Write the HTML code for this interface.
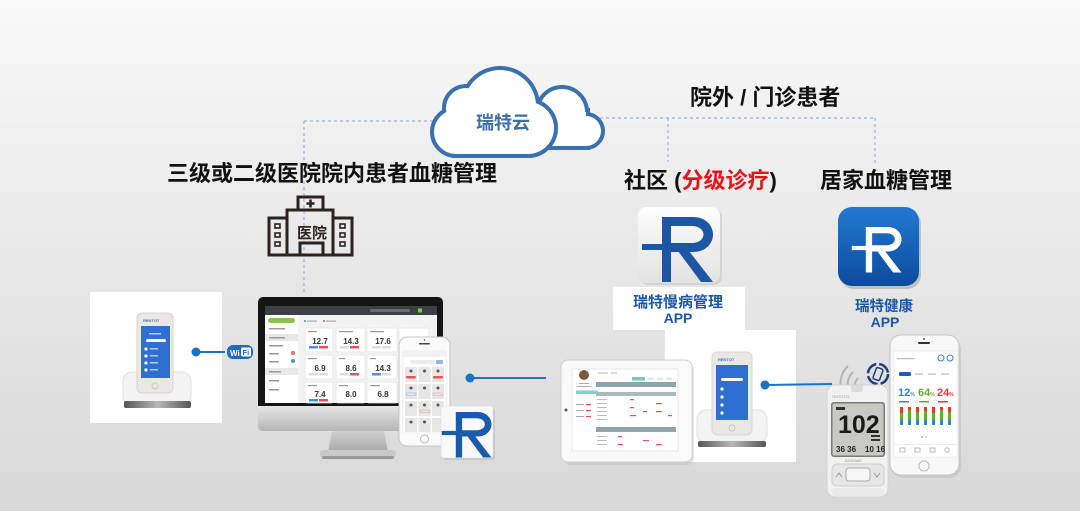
<!DOCTYPE html>
<html><head><meta charset="utf-8"><style>
html,body{margin:0;padding:0;width:1080px;height:511px;overflow:hidden;background:#e8e8e8}
svg{position:absolute;left:0;top:0}
text{font-family:"Liberation Sans","Noto Sans CJK SC",sans-serif}
</style></head><body>
<svg width="1080" height="511" viewBox="0 0 1080 511" xmlns="http://www.w3.org/2000/svg">
<defs>
<linearGradient id="bg" x1="0" y1="0" x2="0" y2="1">
<stop offset="0" stop-color="#f9f9f9"/><stop offset="0.35" stop-color="#ededed"/><stop offset="1" stop-color="#d8d8d8"/>
</linearGradient>
<linearGradient id="chin" x1="0" y1="0" x2="0" y2="1"><stop offset="0" stop-color="#e6e6e6"/><stop offset="1" stop-color="#b5b5b5"/></linearGradient>
<linearGradient id="neck" x1="0" y1="0" x2="0" y2="1"><stop offset="0" stop-color="#d0d0d0"/><stop offset="1" stop-color="#a8a8a8"/></linearGradient>
<linearGradient id="base" x1="0" y1="0" x2="1" y2="0"><stop offset="0" stop-color="#555"/><stop offset="0.5" stop-color="#b8b8b8"/><stop offset="1" stop-color="#555"/></linearGradient>
<linearGradient id="ic1" x1="0" y1="0" x2="0" y2="1"><stop offset="0" stop-color="#fdfdfd"/><stop offset="1" stop-color="#e2e2e2"/></linearGradient>
<linearGradient id="ic2" x1="0" y1="0" x2="0" y2="1"><stop offset="0" stop-color="#2379d2"/><stop offset="1" stop-color="#0b4b9c"/></linearGradient>
<g id="logo">
<path fill-rule="evenodd" d="M24 10 H55 C67 10 75 18 75 27.5 C75 37 67 45 55 45 H33 V75 H24 Z M33 19 H54 C61 19 65.5 23 65.5 27.5 C65.5 32 61 36 54 36 H33 Z"/>
<rect x="4" y="37" width="30" height="6"/>
<polygon points="40,44 51,44 75,75 63,75"/>
</g>
</defs>
<rect width="1080" height="511" fill="url(#bg)"/>

<!-- dashed connectors -->
<path d="M304 121 H440 M304 121 V293 M600 118 H875 M668 118 V162 M875 118 V165" stroke="#9fb0d4" stroke-width="1.2" stroke-dasharray="3 3" fill="none"/>

<!-- cloud back -->
<g stroke="#3a70ae" stroke-width="8" fill="#3a70ae">
<circle cx="562" cy="112" r="23"/><circle cx="586" cy="131" r="15"/><rect x="545" y="112" width="41" height="34"/>
</g>
<g fill="#fff">
<circle cx="562" cy="112" r="23"/><circle cx="586" cy="131" r="15"/><rect x="545" y="112" width="41" height="34"/>
</g>
<!-- cloud front -->
<g stroke="#3a70ae" stroke-width="8" fill="#3a70ae">
<circle cx="500" cy="106" r="36"/><circle cx="466" cy="108" r="20"/><circle cx="456" cy="132" r="22"/><circle cx="528" cy="128" r="26"/><rect x="456" y="118" width="72" height="36"/>
</g>
<g fill="#fff">
<circle cx="500" cy="106" r="36"/><circle cx="466" cy="108" r="20"/><circle cx="456" cy="132" r="22"/><circle cx="528" cy="128" r="26"/><rect x="456" y="118" width="72" height="36"/>
</g>
<text x="476" y="129" font-size="18" font-weight="bold" fill="#3c6fa8">瑞特云</text>

<!-- headings -->
<text x="167" y="181" font-size="22" font-weight="bold" fill="#111">三级或二级医院院内患者血糖管理</text>
<text x="690" y="105" font-size="22" font-weight="bold" fill="#111">院外 / 门诊患者</text>
<text x="624" y="188" font-size="22" font-weight="bold" fill="#111">社区 (<tspan fill="#e8141b">分级诊疗</tspan>)</text>
<text x="820" y="188" font-size="22" font-weight="bold" fill="#111">居家血糖管理</text>

<!-- hospital icon -->
<g stroke="#2b2222" stroke-width="3" fill="none">
<rect x="298" y="197" width="25" height="13"/>
<path d="M287 255 V210 H333 V255"/>
<rect x="269" y="218" width="18" height="37"/>
<rect x="333" y="218" width="19" height="37"/>
<path d="M268 255 H353"/>
<rect x="300" y="243" width="23" height="12"/>
</g>
<path d="M310.5 199.5 V207.5 M306.5 203.5 H314.5" stroke="#2b2222" stroke-width="2.5"/>
<g fill="none" stroke="#2b2222" stroke-width="1.6">
<rect x="275" y="224" width="5" height="4"/><rect x="275" y="233" width="5" height="4"/><rect x="275" y="242" width="5" height="4"/>
<rect x="340" y="224" width="5" height="4"/><rect x="340" y="233" width="5" height="4"/><rect x="340" y="242" width="5" height="4"/>
</g>
<text x="297" y="238" font-size="15" font-weight="bold" fill="#2b2222">医院</text>

<!-- left device box -->
<rect x="90" y="292" width="132" height="131" fill="#fff"/>
<rect x="123" y="372" width="68" height="33" rx="9" fill="#f3f3f3" stroke="#e0e0e0"/>
<rect x="137" y="313" width="36" height="80" rx="5" fill="#ebe8e3" stroke="#d5d5d5"/>
<text x="143" y="322" font-size="4" fill="#3b6fc0" font-weight="bold">RENTOT</text>
<rect x="141" y="326" width="29" height="52" fill="#2f6fd2"/>
<rect x="146" y="339" width="20" height="3" rx="1.5" fill="#fff"/>
<g fill="#fff"><circle cx="146" cy="349" r="1.6"/><circle cx="146" cy="356" r="1.6"/><circle cx="146" cy="363" r="1.6"/><circle cx="146" cy="370" r="1.6"/></g>
<g fill="#b8cdf0"><rect x="150" y="348" width="8" height="1.5"/><rect x="150" y="355" width="8" height="1.5"/><rect x="150" y="362" width="8" height="1.5"/><rect x="150" y="369" width="8" height="1.5"/><rect x="149" y="333" width="12" height="1.5"/></g>
<circle cx="155" cy="386" r="3" fill="none" stroke="#c8c8c8"/>
<rect x="124" y="401" width="67" height="7" rx="2" fill="url(#base)"/>

<!-- connector 1 + wifi -->
<line x1="196" y1="352" x2="225" y2="352" stroke="#1a73c7" stroke-width="2"/>
<circle cx="196" cy="352" r="4.5" fill="#1a73c7"/>
<rect x="227" y="345" width="26" height="14" rx="6" fill="#1f6bbf"/>
<text x="230" y="356" font-size="8" font-weight="bold" fill="#fff">Wi</text>
<rect x="241" y="347.5" width="10" height="9" rx="1.5" fill="#fff"/>
<text x="242.5" y="355" font-size="7.5" font-weight="bold" fill="#1f6bbf">Fi</text>

<!-- monitor -->
<rect x="258" y="297" width="185" height="114" rx="5" fill="#151515"/>
<path d="M258 406 H443 V426 Q443 431 438 431 H263 Q258 431 258 426 Z" fill="url(#chin)"/>
<polygon points="332,431 384,431 388,452 328,452" fill="url(#neck)"/>
<rect x="320" y="450" width="76" height="8" rx="3" fill="#c9c9c9"/>
<rect x="322" y="456" width="72" height="3" rx="1.5" fill="#9a9a9a"/>
<rect x="265" y="306" width="172" height="97" fill="#f3f3f3"/>
<rect x="265" y="306" width="172" height="9" fill="#3c3f44"/>
<rect x="370" y="309" width="40" height="3" rx="1.5" fill="#6a6d72"/>
<rect x="418" y="308.5" width="4" height="4" fill="#8cc152"/>
<rect x="265" y="315" width="33" height="88" fill="#fff"/>
<rect x="268" y="318" width="27" height="5" rx="2.5" fill="#8cc152"/>
<rect x="265" y="334" width="33" height="7" fill="#e8e8e8"/>
<rect x="265" y="368" width="33" height="7" fill="#e8e8e8"/>
<g fill="#9a9a9a"><rect x="269" y="328" width="16" height="1.5"/><rect x="269" y="337" width="16" height="1.5"/><rect x="269" y="345" width="14" height="1.5"/><rect x="269" y="353" width="10" height="1.5"/><rect x="269" y="361" width="10" height="1.5"/><rect x="269" y="371" width="12" height="1.5"/><rect x="269" y="380" width="10" height="1.5"/><rect x="269" y="389" width="10" height="1.5"/></g>
<circle cx="293" cy="353" r="2.2" fill="#e8737a"/><circle cx="293" cy="361" r="2" fill="#4a8fe0"/>
<circle cx="305" cy="321" r="1" fill="#4a8fe0"/><rect x="307" y="320.5" width="10" height="1.2" fill="#aaa"/>
<circle cx="324" cy="321" r="1" fill="#e8505a"/><rect x="326" y="320.5" width="10" height="1.2" fill="#aaa"/>
<g fill="#fff" stroke="#e4e4e4" stroke-width="0.8">
<rect x="305" y="328" width="28" height="24" rx="2"/><rect x="336" y="328" width="29" height="24" rx="2"/><rect x="367" y="328" width="30" height="24" rx="2"/><rect x="399" y="328" width="30" height="24" rx="2"/>
<rect x="305" y="355" width="28" height="24" rx="2"/><rect x="336" y="355" width="29" height="24" rx="2"/><rect x="367" y="355" width="30" height="24" rx="2"/><rect x="399" y="355" width="30" height="24" rx="2"/>
<rect x="305" y="382" width="28" height="21" rx="2"/><rect x="336" y="382" width="29" height="21" rx="2"/><rect x="367" y="382" width="30" height="21" rx="2"/>
</g>
<g fill="#999"><rect x="308" y="331" width="9" height="1.2"/><rect x="339" y="331" width="14" height="1.2"/><rect x="370" y="331" width="14" height="1.2"/><rect x="308" y="358" width="9" height="1.2"/><rect x="339" y="358" width="6" height="1.2"/><rect x="370" y="358" width="6" height="1.2"/><rect x="308" y="385" width="9" height="1.2"/><rect x="339" y="385" width="9" height="1.2"/><rect x="370" y="385" width="10" height="1.2"/></g>
<g font-size="8" font-weight="bold" fill="#333" text-anchor="middle">
<text x="320" y="344">12.7</text><text x="351" y="344">14.3</text><text x="383" y="344">17.6</text>
<text x="320" y="371">6.9</text><text x="351" y="371">8.6</text><text x="383" y="371">14.3</text>
<text x="320" y="397">7.4</text><text x="351" y="397">8.0</text><text x="383" y="397">6.8</text>
</g>
<g>
<rect x="309" y="346" width="9" height="2.5" fill="#4a8fe0"/><rect x="319" y="346" width="9" height="2.5" fill="#e8505a"/>
<rect x="340" y="346" width="9" height="2.5" fill="#ddd"/><rect x="350" y="346" width="9" height="2.5" fill="#e8505a"/>
<rect x="372" y="346" width="9" height="2.5" fill="#ddd"/><rect x="382" y="346" width="9" height="2.5" fill="#ddd"/>
<rect x="309" y="373" width="9" height="2.5" fill="#ddd"/><rect x="319" y="373" width="9" height="2.5" fill="#ddd"/>
<rect x="340" y="373" width="9" height="2.5" fill="#ddd"/><rect x="350" y="373" width="9" height="2.5" fill="#e8505a"/>
<rect x="372" y="373" width="9" height="2.5" fill="#4a8fe0"/><rect x="382" y="373" width="9" height="2.5" fill="#ddd"/>
<rect x="309" y="399" width="9" height="2.5" fill="#4a8fe0"/><rect x="319" y="399" width="9" height="2.5" fill="#e8505a"/>
</g>

<!-- phone near monitor -->
<rect x="399" y="337" width="51" height="109" rx="8" fill="#fafafa" stroke="#c5c5c5"/>
<rect x="419" y="343" width="11" height="1.5" rx="0.75" fill="#444"/>
<circle cx="424.5" cy="340" r="0.8" fill="#444"/>
<rect x="403" y="351" width="43" height="82" fill="#fff" stroke="#e2e2e2" stroke-width="0.5"/>
<rect x="403" y="351" width="43" height="6" fill="#f1f1f1"/>
<rect x="410" y="360" width="26" height="4" rx="2" fill="#ececec"/><rect x="436" y="360" width="7" height="4" rx="1" fill="#8fb6e8"/>
<g fill="#e6e6e6">
<rect x="405" y="367" width="12" height="15"/><rect x="418.5" y="367" width="12" height="15"/><rect x="432" y="367" width="12" height="15"/>
<rect x="405" y="384" width="12" height="15"/><rect x="418.5" y="384" width="12" height="15"/><rect x="432" y="384" width="12" height="15"/>
<rect x="405" y="401" width="12" height="15"/><rect x="418.5" y="401" width="12" height="15"/><rect x="432" y="401" width="12" height="15"/>
<rect x="405" y="418" width="12" height="14"/><rect x="418.5" y="418" width="12" height="14"/><rect x="432" y="418" width="12" height="14"/>
</g>
<g fill="#555"><circle cx="411" cy="371" r="1.5"/><circle cx="424.5" cy="371" r="1.5"/><circle cx="438" cy="371" r="1.5"/><circle cx="411" cy="388" r="1.5"/><circle cx="424.5" cy="388" r="1.5"/><circle cx="438" cy="388" r="1.5"/><circle cx="411" cy="405" r="1.5"/><circle cx="424.5" cy="405" r="1.5"/><circle cx="438" cy="405" r="1.5"/><circle cx="411" cy="422" r="1.5"/><circle cx="424.5" cy="422" r="1.5"/></g>
<rect x="406" y="376" width="10" height="2.5" rx="1.2" fill="#e8505a"/><rect x="433" y="376" width="10" height="2.5" rx="1.2" fill="#e8505a"/>
<rect x="406" y="393" width="10" height="2.5" rx="1.2" fill="none" stroke="#8fb6e8" stroke-width="0.6"/><rect x="433" y="393" width="10" height="2.5" rx="1.2" fill="none" stroke="#e8a0a5" stroke-width="0.6"/>
<rect x="420" y="410" width="10" height="2.5" rx="1.2" fill="none" stroke="#e8a0a5" stroke-width="0.6"/>
<circle cx="424.5" cy="439" r="4" fill="none" stroke="#bbb"/>

<!-- R tile -->
<rect x="443" y="408" width="52" height="52" rx="3" fill="#b9b9b9" opacity="0.6"/>
<rect x="441" y="406" width="52" height="52" rx="3" fill="#f8f8f8" stroke="#e0e0e0" stroke-width="0.6"/>
<use href="#logo" transform="translate(439,405) scale(0.7)" fill="#1a5aaa"/>

<!-- connector 2 -->
<line x1="470" y1="378" x2="546" y2="378" stroke="#1a73c7" stroke-width="2"/>
<circle cx="470" cy="378" r="4.5" fill="#1a73c7"/>

<!-- white label box + second box -->
<rect x="613" y="287" width="132" height="43" fill="#fff"/>
<rect x="665" y="330" width="131" height="132" fill="#fff"/>

<!-- tablet -->
<rect x="563" y="363" width="131" height="102" rx="7" fill="#c4c4c4" opacity="0.5"/>
<rect x="561" y="360" width="131" height="102" rx="7" fill="#fafafa" stroke="#cfcfcf"/>
<circle cx="566" cy="410" r="1.5" fill="#555"/>
<rect x="572" y="369" width="106" height="82" fill="#fff" stroke="#dcdcdc" stroke-width="0.6"/>
<circle cx="584" cy="375" r="5" fill="#7a5a3e"/>
<g fill="#aaa"><rect x="579" y="383" width="10" height="1"/><rect x="577" y="386" width="14" height="1"/><rect x="576" y="404" width="8" height="1"/><rect x="576" y="410" width="8" height="1"/><rect x="576" y="416" width="8" height="1"/></g>
<rect x="576" y="390.5" width="22" height="3.5" fill="#7fd0c8"/>
<g fill="#e8505a"><rect x="586" y="404" width="5" height="1.2"/><rect x="586" y="410" width="5" height="1.2"/><rect x="586" y="416" width="5" height="1.2"/></g>
<rect x="598" y="372" width="10" height="2" fill="#ddd"/><rect x="611" y="372" width="6" height="2" fill="#ddd"/>
<rect x="632" y="377" width="13" height="3.5" fill="#6fc9c4"/>
<g fill="#ddd"><rect x="648" y="378" width="6" height="1.5"/><rect x="657" y="378" width="6" height="1.5"/><rect x="666" y="378" width="6" height="1.5"/></g>
<rect x="596" y="382" width="80" height="5" fill="#8fa5ad"/>
<rect x="596" y="392" width="80" height="4" fill="#a8bac0"/>
<rect x="596" y="427" width="80" height="5" fill="#8fa5ad"/>
<g fill="#bbb"><rect x="597" y="399" width="10" height="1"/><rect x="597" y="403" width="10" height="1"/><rect x="597" y="407" width="10" height="1"/><rect x="597" y="411" width="10" height="1"/><rect x="597" y="415" width="10" height="1"/><rect x="597" y="419" width="10" height="1"/><rect x="597" y="436" width="10" height="1"/><rect x="597" y="440" width="10" height="1"/><rect x="597" y="444" width="10" height="1"/></g>
<g fill="#e8505a"><rect x="630" y="399" width="4" height="1.2"/><rect x="630" y="407" width="4" height="1.2"/><rect x="643" y="411" width="4" height="1.2"/><rect x="656" y="403" width="6" height="1.2"/><rect x="656" y="411" width="6" height="1.2"/><rect x="630" y="415" width="6" height="1.2"/><rect x="668" y="415" width="4" height="1.2"/><rect x="618" y="436" width="4" height="1.2"/><rect x="643" y="440" width="6" height="1.2"/><rect x="656" y="444" width="6" height="1.2"/><rect x="618" y="444" width="5" height="1.2"/></g>

<!-- device in second box -->
<rect x="697" y="410" width="70" height="33" rx="9" fill="#f3f3f3" stroke="#e0e0e0"/>
<rect x="712" y="352" width="40" height="83" rx="6" fill="#ebe8e3" stroke="#d5d5d5"/>
<text x="718" y="361" font-size="4" fill="#3b6fc0" font-weight="bold">RENTOT</text>
<rect x="716" y="365" width="32" height="55" fill="#2f6fd2"/>
<rect x="721" y="378" width="22" height="3" rx="1.5" fill="#fff"/>
<g fill="#fff"><circle cx="722" cy="389" r="1.6"/><circle cx="722" cy="397" r="1.6"/><circle cx="722" cy="405" r="1.6"/><circle cx="722" cy="413" r="1.6"/></g>
<circle cx="732" cy="428" r="3" fill="none" stroke="#c8c8c8"/>
<rect x="698" y="441" width="68" height="6" rx="2" fill="url(#base)"/>

<!-- connector 3 -->
<line x1="765" y1="385" x2="832" y2="384" stroke="#1a73c7" stroke-width="2"/>
<circle cx="765" cy="385" r="4.5" fill="#1a73c7"/>

<!-- app icon 1 -->
<rect x="640" y="209" width="82" height="76" rx="8" fill="#bdbdbd" opacity="0.5"/>
<rect x="638" y="207" width="82" height="76" rx="8" fill="url(#ic1)"/>
<use href="#logo" transform="translate(638,207)" fill="#1d56a5"/>
<text x="633" y="307" font-size="15" font-weight="bold" fill="#1b57a8">瑞特慢病管理</text>
<text x="678" y="323" font-size="14" font-weight="bold" fill="#1b57a8" text-anchor="middle">APP</text>

<!-- app icon 2 -->
<rect x="840" y="210" width="81" height="79" rx="14" fill="#777" opacity="0.35"/>
<rect x="838" y="207" width="81" height="79" rx="14" fill="url(#ic2)"/>
<use href="#logo" transform="translate(849,220) scale(0.7)" fill="#fff"/>
<text x="855" y="311" font-size="14.5" font-weight="bold" fill="#1b57a8">瑞特健康</text>
<text x="885" y="327" font-size="14" font-weight="bold" fill="#1b57a8" text-anchor="middle">APP</text>

<!-- wireless arcs + sync icon -->
<g fill="none" stroke="#b5b5b5" stroke-width="2">
<path d="M856 392 A12 12 0 0 1 858 378"/>
<path d="M850 394 A18 18 0 0 1 853 372"/>
<path d="M844 396 A24 24 0 0 1 848 366"/>
<path d="M896 372 A16 16 0 0 1 899 392"/>
<path d="M902 366 A22 22 0 0 1 906 396"/>
</g>
<circle cx="878" cy="374" r="10" fill="none" stroke="#1f3e78" stroke-width="2.5" stroke-dasharray="13 3"/>
<rect x="874.5" y="368" width="7" height="12" rx="1.5" fill="none" stroke="#1f3e78" stroke-width="1.5" transform="rotate(20 878 374)"/>

<!-- meter -->
<rect x="827" y="385" width="61" height="112" rx="8" fill="#f1f1f1" stroke="#d2d2d2"/>
<rect x="851" y="385" width="12" height="7" rx="2" fill="#dcdcdc"/>
<text x="832" y="398" font-size="4" fill="#999">ONTOTO</text>
<rect x="831" y="402" width="54" height="55" rx="3" fill="#7a7a7a"/>
<rect x="832.5" y="403.5" width="51" height="52" rx="2" fill="#c8c9c4"/>
<text x="838" y="433" font-size="25" font-weight="bold" fill="#1a1a1a" font-family="Liberation Mono, monospace">102</text>
<g fill="#333"><rect x="836" y="407" width="9" height="3"/><rect x="871" y="435" width="9" height="2"/><rect x="871" y="439" width="9" height="2"/></g>
<text x="836" y="452" font-size="8" font-weight="bold" fill="#222">36 36</text>
<text x="865" y="452" font-size="8" font-weight="bold" fill="#222">10 16</text>
<text x="845" y="462" font-size="4" fill="#999">BIONIME</text>
<rect x="832" y="464" width="52" height="22" rx="5" fill="#e6e6e6" stroke="#cdcdcd"/>
<rect x="846" y="468" width="24" height="13" rx="3" fill="#f6f6f6" stroke="#aaa"/>
<path d="M836 477 L839 473 L842 477 M874 473 L877 477 L880 473" fill="none" stroke="#999" stroke-width="1"/>
<rect x="832" y="488" width="52" height="8" rx="3" fill="#e9e9e9"/>

<!-- right phone -->
<rect x="892" y="338" width="69" height="140" rx="11" fill="#bbb" opacity="0.5"/>
<rect x="890" y="335" width="69" height="140" rx="11" fill="#f8f8f8" stroke="#c6c6c6"/>
<rect x="918" y="342" width="12" height="2" rx="1" fill="#333"/>
<circle cx="924" cy="339" r="0.9" fill="#333"/>
<rect x="894" y="351" width="63" height="106" fill="#fff" stroke="#e0e0e0" stroke-width="0.5"/>
<rect x="897" y="358" width="18" height="1.2" fill="#bbb"/>
<circle cx="941" cy="358" r="3" fill="none" stroke="#3a7bd5"/><circle cx="950" cy="358" r="3" fill="none" stroke="#3a7bd5"/>
<rect x="899" y="372" width="12" height="4" rx="1" fill="#1c5fb0"/>
<g fill="#bbb"><rect x="915" y="373.5" width="8" height="1.2"/><rect x="928" y="373.5" width="8" height="1.2"/><rect x="941" y="373.5" width="8" height="1.2"/></g>
<text x="898" y="396" font-size="11" font-weight="bold" fill="#2e86d0">12<tspan font-size="5">%</tspan></text>
<text x="918" y="396" font-size="11" font-weight="bold" fill="#6aa834">64<tspan font-size="5">%</tspan></text>
<text x="937" y="396" font-size="11" font-weight="bold" fill="#e23a3a">24<tspan font-size="5">%</tspan></text>
<rect x="899" y="401" width="10" height="1.5" fill="#2e86d0"/><rect x="919" y="401" width="10" height="1.5" fill="#6aa834"/><rect x="938" y="401" width="10" height="1.5" fill="#e23a3a"/>
<g>
<rect x="900" y="407" width="3" height="6" fill="#e23a3a"/><rect x="900" y="413" width="3" height="7" fill="#6aa834"/><rect x="900" y="420" width="3" height="5" fill="#2e86d0"/>
<rect x="908" y="407" width="3" height="3" fill="#e23a3a"/><rect x="908" y="410" width="3" height="10" fill="#6aa834"/><rect x="908" y="420" width="3" height="5" fill="#2e86d0"/>
<rect x="916" y="407" width="3" height="5" fill="#e23a3a"/><rect x="916" y="412" width="3" height="8" fill="#6aa834"/><rect x="916" y="420" width="3" height="5" fill="#2e86d0"/>
<rect x="924" y="407" width="3" height="4" fill="#e23a3a"/><rect x="924" y="411" width="3" height="9" fill="#6aa834"/><rect x="924" y="420" width="3" height="5" fill="#2e86d0"/>
<rect x="932" y="407" width="3" height="6" fill="#e23a3a"/><rect x="932" y="413" width="3" height="7" fill="#6aa834"/><rect x="932" y="420" width="3" height="5" fill="#2e86d0"/>
<rect x="940" y="407" width="3" height="3" fill="#e23a3a"/><rect x="940" y="410" width="3" height="10" fill="#6aa834"/><rect x="940" y="420" width="3" height="5" fill="#2e86d0"/>
<rect x="948" y="407" width="3" height="5" fill="#e23a3a"/><rect x="948" y="412" width="3" height="8" fill="#6aa834"/><rect x="948" y="420" width="3" height="5" fill="#2e86d0"/>
</g>
<circle cx="922" cy="437" r="1" fill="#aaa"/><circle cx="926" cy="437" r="1" fill="#ddd"/>
<rect x="894" y="444" width="63" height="0.6" fill="#e0e0e0"/>
<g fill="none" stroke="#aaa" stroke-width="0.8"><rect x="900" y="448" width="5" height="4"/><rect x="915" y="448" width="5" height="4"/><rect x="930" y="448" width="5" height="4"/><circle cx="947" cy="450" r="2.2"/></g>
<circle cx="924" cy="466" r="5" fill="none" stroke="#bbb"/>
</svg>
</body></html>
